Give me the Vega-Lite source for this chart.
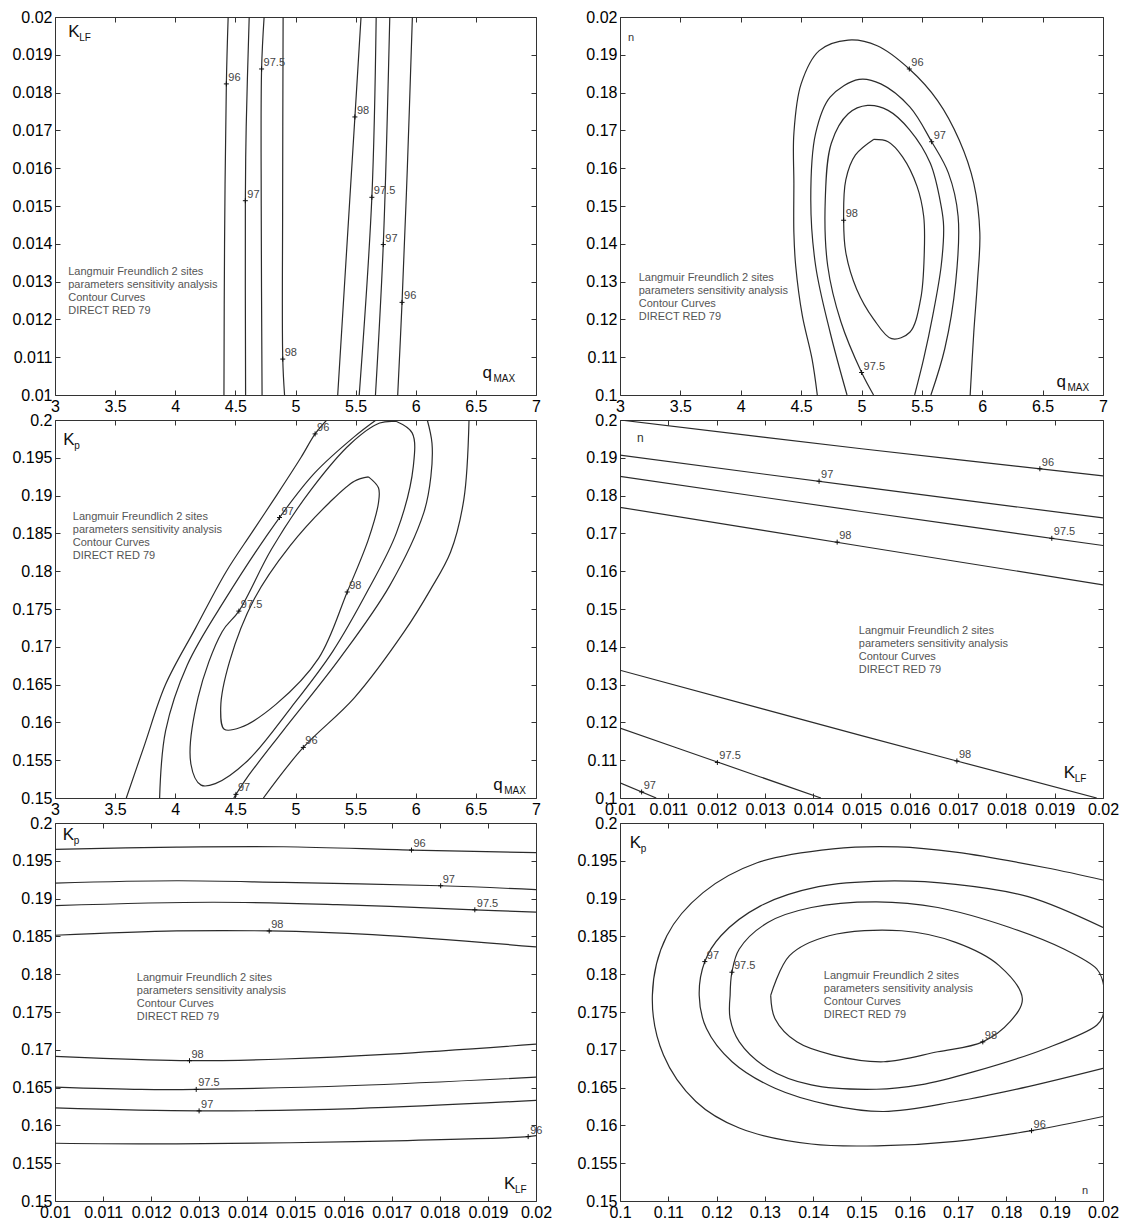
{
"$schema": "https://vega.github.io/schema/vega-lite/v6.json",
"padding": {"left": 11, "top": 8, "right": 5, "bottom": 4},
"columns": 2,
"spacing": {"row": 25, "column": 84},
"bounds": "flush",
"config": {
  "font": "Liberation Sans",
  "view": {"stroke": "#333", "strokeWidth": 1},
  "axis": {"domain": false, "grid": false, "tickSize": -5, "tickColor": "#333", "labelFont": "Liberation Sans", "labelFontSize": 16, "labelColor": "#000", "labelPadding": 8, "labelFlush": false, "labelOverlap": false},
  "text": {"font": "Liberation Sans"}
},
"datasets": {
"p1": [
{"k":"l","c":"96a","x":4.44,"y":0.02},{"k":"l","c":"96a","x":4.425,"y":0.01823},{"k":"l","c":"96a","x":4.41,"y":0.014},{"k":"l","c":"96a","x":4.405,"y":0.01},
{"k":"l","c":"97a","x":4.615,"y":0.02},{"k":"l","c":"97a","x":4.59,"y":0.0171},{"k":"l","c":"97a","x":4.583,"y":0.01514},{"k":"l","c":"97a","x":4.585,"y":0.01},
{"k":"l","c":"975a","x":4.739,"y":0.02},{"k":"l","c":"975a","x":4.718,"y":0.018625},{"k":"l","c":"975a","x":4.715,"y":0.015},{"k":"l","c":"975a","x":4.722,"y":0.01},
{"k":"l","c":"98a","x":4.897,"y":0.02},{"k":"l","c":"98a","x":4.893,"y":0.015},{"k":"l","c":"98a","x":4.894,"y":0.01095},{"k":"l","c":"98a","x":4.909,"y":0.01},
{"k":"l","c":"98b","x":5.545,"y":0.02},{"k":"l","c":"98b","x":5.494,"y":0.017356},{"k":"l","c":"98b","x":5.45,"y":0.0151},{"k":"l","c":"98b","x":5.351,"y":0.01},
{"k":"l","c":"975b","x":5.671,"y":0.02},{"k":"l","c":"975b","x":5.635,"y":0.01523},{"k":"l","c":"975b","x":5.53,"y":0.01},
{"k":"l","c":"97b","x":5.784,"y":0.02},{"k":"l","c":"97b","x":5.73,"y":0.01398},{"k":"l","c":"97b","x":5.665,"y":0.01},
{"k":"l","c":"96b","x":5.972,"y":0.02},{"k":"l","c":"96b","x":5.93,"y":0.016},{"k":"l","c":"96b","x":5.886,"y":0.01245},{"k":"l","c":"96b","x":5.85,"y":0.01},
{"k":"t","t":"96","x":4.425,"y":0.01823},{"k":"t","t":"97.5","x":4.718,"y":0.018625},{"k":"t","t":"97","x":4.583,"y":0.01514},{"k":"t","t":"98","x":4.894,"y":0.01095},
{"k":"t","t":"98","x":5.494,"y":0.017356},{"k":"t","t":"97.5","x":5.635,"y":0.01523},{"k":"t","t":"97","x":5.73,"y":0.01398},{"k":"t","t":"96","x":5.886,"y":0.01245},
{"k":"a","t":"Langmuir Freundlich 2 sites\nparameters sensitivity analysis\nContour Curves\nDIRECT RED 79","x":3.11,"y":0.0134},
{"k":"n","t":"K","s":"LF","x":3.11,"y":0.01946},{"k":"n","t":"q","s":"MAX","x":6.555,"y":0.01044}
],
"p2": [
{"k":"l","c":"96","x":4.634,"y":0.1},{"k":"l","c":"96","x":4.59,"y":0.1096},{"k":"l","c":"96","x":4.51,"y":0.121},{"k":"l","c":"96","x":4.455,"y":0.1342},{"k":"l","c":"96","x":4.44,"y":0.1429},{"k":"l","c":"96","x":4.44,"y":0.156},{"k":"l","c":"96","x":4.44,"y":0.1692},{"k":"l","c":"96","x":4.5,"y":0.1823},{"k":"l","c":"96","x":4.65,"y":0.1911},{"k":"l","c":"96","x":4.89,"y":0.1939},{"k":"l","c":"96","x":5.13,"y":0.1924},{"k":"l","c":"96","x":5.396,"y":0.18625},{"k":"l","c":"96","x":5.63,"y":0.1779},{"k":"l","c":"96","x":5.81,"y":0.1674},{"k":"l","c":"96","x":5.93,"y":0.156},{"k":"l","c":"96","x":5.98,"y":0.1429},{"k":"l","c":"96","x":5.96,"y":0.1298},{"k":"l","c":"96","x":5.93,"y":0.1166},{"k":"l","c":"96","x":5.9,"y":0.1},
{"k":"l","c":"97","x":4.88,"y":0.1},{"k":"l","c":"97","x":4.74,"y":0.1166},{"k":"l","c":"97","x":4.62,"y":0.1342},{"k":"l","c":"97","x":4.58,"y":0.1517},{"k":"l","c":"97","x":4.62,"y":0.1692},{"k":"l","c":"97","x":4.74,"y":0.1788},{"k":"l","c":"97","x":4.98,"y":0.1835},{"k":"l","c":"97","x":5.16,"y":0.1823},{"k":"l","c":"97","x":5.4,"y":0.1762},{"k":"l","c":"97","x":5.581,"y":0.167},{"k":"l","c":"97","x":5.72,"y":0.1587},{"k":"l","c":"97","x":5.8,"y":0.1473},{"k":"l","c":"97","x":5.78,"y":0.1298},{"k":"l","c":"97","x":5.69,"y":0.1123},{"k":"l","c":"97","x":5.575,"y":0.1},
{"k":"l","c":"975","x":5.1,"y":0.1},{"k":"l","c":"975","x":5.001,"y":0.10595},{"k":"l","c":"975","x":4.83,"y":0.1193},{"k":"l","c":"975","x":4.72,"y":0.1342},{"k":"l","c":"975","x":4.7,"y":0.1517},{"k":"l","c":"975","x":4.75,"y":0.1666},{"k":"l","c":"975","x":4.89,"y":0.1744},{"k":"l","c":"975","x":5.05,"y":0.1766},{"k":"l","c":"975","x":5.22,"y":0.1753},{"k":"l","c":"975","x":5.4,"y":0.1701},{"k":"l","c":"975","x":5.57,"y":0.1613},{"k":"l","c":"975","x":5.66,"y":0.1499},{"k":"l","c":"975","x":5.68,"y":0.1447},{"k":"l","c":"975","x":5.66,"y":0.1342},{"k":"l","c":"975","x":5.59,"y":0.121},{"k":"l","c":"975","x":5.515,"y":0.1096},{"k":"l","c":"975","x":5.44,"y":0.1},
{"k":"l","c":"98","x":5.1,"y":0.1676},{"k":"l","c":"98","x":4.95,"y":0.1635},{"k":"l","c":"98","x":4.87,"y":0.1569},{"k":"l","c":"98","x":4.852,"y":0.14623},{"k":"l","c":"98","x":4.87,"y":0.1377},{"k":"l","c":"98","x":4.96,"y":0.128},{"k":"l","c":"98","x":5.1,"y":0.1201},{"k":"l","c":"98","x":5.25,"y":0.1149},{"k":"l","c":"98","x":5.4,"y":0.1166},{"k":"l","c":"98","x":5.49,"y":0.1254},{"k":"l","c":"98","x":5.52,"y":0.1377},{"k":"l","c":"98","x":5.515,"y":0.1473},{"k":"l","c":"98","x":5.46,"y":0.1552},{"k":"l","c":"98","x":5.34,"y":0.163},{"k":"l","c":"98","x":5.22,"y":0.167},{"k":"l","c":"98","x":5.1,"y":0.1676},
{"k":"t","t":"96","x":5.396,"y":0.18625},{"k":"t","t":"97","x":5.581,"y":0.167},{"k":"t","t":"98","x":4.852,"y":0.14623},{"k":"t","t":"97.5","x":5.001,"y":0.10595},
{"k":"a","t":"Langmuir Freundlich 2 sites\nparameters sensitivity analysis\nContour Curves\nDIRECT RED 79","x":3.155,"y":0.1326},
{"k":"n","t":"q","s":"MAX","x":6.615,"y":0.1022},{"k":"m","t":"n","x":3.066,"y":0.1937}
],
"p3": [
{"k":"l","c":"96a","x":3.593,"y":0.15},{"k":"l","c":"96a","x":3.744,"y":0.157},{"k":"l","c":"96a","x":3.919,"y":0.165},{"k":"l","c":"96a","x":4.17,"y":0.1725},{"k":"l","c":"96a","x":4.422,"y":0.1799},{"k":"l","c":"96a","x":4.641,"y":0.1852},{"k":"l","c":"96a","x":4.837,"y":0.1899},{"k":"l","c":"96a","x":5.044,"y":0.195},{"k":"l","c":"96a","x":5.163,"y":0.19816},{"k":"l","c":"96a","x":5.26,"y":0.2},
{"k":"l","c":"96b","x":4.733,"y":0.15},{"k":"l","c":"96b","x":5.065,"y":0.15669},{"k":"l","c":"96b","x":5.489,"y":0.16325},{"k":"l","c":"96b","x":5.904,"y":0.172},{"k":"l","c":"96b","x":6.12,"y":0.1775},{"k":"l","c":"96b","x":6.289,"y":0.1825},{"k":"l","c":"96b","x":6.4,"y":0.1895},{"k":"l","c":"96b","x":6.443,"y":0.2},
{"k":"l","c":"97a","x":3.87,"y":0.15},{"k":"l","c":"97a","x":3.92,"y":0.1589},{"k":"l","c":"97a","x":4.1,"y":0.1676},{"k":"l","c":"97a","x":4.42,"y":0.1764},{"k":"l","c":"97a","x":4.867,"y":0.1871},{"k":"l","c":"97a","x":5.16,"y":0.193},{"k":"l","c":"97a","x":5.49,"y":0.1978},{"k":"l","c":"97a","x":5.67,"y":0.2},
{"k":"l","c":"97b","x":6.096,"y":0.2},{"k":"l","c":"97b","x":6.135,"y":0.19694},{"k":"l","c":"97b","x":6.126,"y":0.19256},{"k":"l","c":"97b","x":6.067,"y":0.18775},{"k":"l","c":"97b","x":5.785,"y":0.17813},{"k":"l","c":"97b","x":5.37,"y":0.1685},{"k":"l","c":"97b","x":4.896,"y":0.15888},{"k":"l","c":"97b","x":4.6,"y":0.15276},{"k":"l","c":"97b","x":4.505,"y":0.15048},{"k":"l","c":"97b","x":4.487,"y":0.15},
{"k":"l","c":"975","x":5.84,"y":0.1998},{"k":"l","c":"975","x":5.97,"y":0.1983},{"k":"l","c":"975","x":5.98,"y":0.1939},{"k":"l","c":"975","x":5.84,"y":0.1851},{"k":"l","c":"975","x":5.61,"y":0.1777},{"k":"l","c":"975","x":5.31,"y":0.1694},{"k":"l","c":"975","x":4.96,"y":0.1619},{"k":"l","c":"975","x":4.6,"y":0.1549},{"k":"l","c":"975","x":4.333,"y":0.1519},{"k":"l","c":"975","x":4.215,"y":0.1517},{"k":"l","c":"975","x":4.13,"y":0.1545},{"k":"l","c":"975","x":4.19,"y":0.1633},{"k":"l","c":"975","x":4.39,"y":0.172},{"k":"l","c":"975","x":4.529,"y":0.17472},{"k":"l","c":"975","x":4.8,"y":0.1829},{"k":"l","c":"975","x":5.13,"y":0.1908},{"k":"l","c":"975","x":5.46,"y":0.1969},{"k":"l","c":"975","x":5.7,"y":0.1996},{"k":"l","c":"975","x":5.84,"y":0.1998},
{"k":"l","c":"98","x":5.607,"y":0.19248},{"k":"l","c":"98","x":5.69,"y":0.19103},{"k":"l","c":"98","x":5.69,"y":0.18906},{"k":"l","c":"98","x":5.607,"y":0.18425},{"k":"l","c":"98","x":5.43,"y":0.17725},{"k":"l","c":"98","x":5.193,"y":0.1685},{"k":"l","c":"98","x":4.837,"y":0.16238},{"k":"l","c":"98","x":4.541,"y":0.15932},{"k":"l","c":"98","x":4.407,"y":0.1591},{"k":"l","c":"98","x":4.378,"y":0.16194},{"k":"l","c":"98","x":4.452,"y":0.16807},{"k":"l","c":"98","x":4.659,"y":0.17638},{"k":"l","c":"98","x":4.956,"y":0.18338},{"k":"l","c":"98","x":5.281,"y":0.18906},{"k":"l","c":"98","x":5.489,"y":0.19191},{"k":"l","c":"98","x":5.607,"y":0.19248},
{"k":"t","t":"96","x":5.163,"y":0.19816},{"k":"t","t":"97","x":4.867,"y":0.1871},{"k":"t","t":"97.5","x":4.529,"y":0.17472},{"k":"t","t":"98","x":5.43,"y":0.17725},{"k":"t","t":"96","x":5.065,"y":0.15669},{"k":"t","t":"97","x":4.505,"y":0.15048},
{"k":"a","t":"Langmuir Freundlich 2 sites\nparameters sensitivity analysis\nContour Curves\nDIRECT RED 79","x":3.148,"y":0.188},
{"k":"n","t":"K","s":"p","x":3.068,"y":0.19672},{"k":"n","t":"q","s":"MAX","x":6.644,"y":0.15109}
],
"p4": [
{"k":"l","c":"96","x":0.01,"y":0.2},{"k":"l","c":"96","x":0.015,"y":0.1924},{"k":"l","c":"96","x":0.02,"y":0.1852},
{"k":"l","c":"97","x":0.01,"y":0.1907},{"k":"l","c":"97","x":0.015,"y":0.1823},{"k":"l","c":"97","x":0.02,"y":0.1741},
{"k":"l","c":"975","x":0.01,"y":0.1851},{"k":"l","c":"975","x":0.015,"y":0.1758},{"k":"l","c":"975","x":0.02,"y":0.1668},
{"k":"l","c":"98","x":0.01,"y":0.1769},{"k":"l","c":"98","x":0.015,"y":0.1666},{"k":"l","c":"98","x":0.02,"y":0.1564},
{"k":"l","c":"98b","x":0.01,"y":0.1338},{"k":"l","c":"98b","x":0.015,"y":0.1165},{"k":"l","c":"98b","x":0.01987,"y":0.1},
{"k":"l","c":"975b","x":0.01,"y":0.1185},{"k":"l","c":"975b","x":0.012,"y":0.1096},{"k":"l","c":"975b","x":0.01416,"y":0.1},
{"k":"l","c":"97b","x":0.01,"y":0.104},{"k":"l","c":"97b","x":0.01075,"y":0.1},
{"k":"t","t":"96","x":0.018693,"y":0.1871},{"k":"t","t":"97","x":0.014122,"y":0.1838},{"k":"t","t":"97.5","x":0.01894,"y":0.1687},{"k":"t","t":"98","x":0.014496,"y":0.1677},{"k":"t","t":"98","x":0.016975,"y":0.1098},{"k":"t","t":"97.5","x":0.012016,"y":0.1094},{"k":"t","t":"97","x":0.010448,"y":0.1016},
{"k":"a","t":"Langmuir Freundlich 2 sites\nparameters sensitivity analysis\nContour Curves\nDIRECT RED 79","x":0.014944,"y":0.1457},
{"k":"n","t":"K","s":"LF","x":0.019186,"y":0.10527},{"k":"m","t":"n","x":0.01035,"y":0.1942}
],
"p5": [
{"k":"l","c":"96a","x":0.01,"y":0.19651},{"k":"l","c":"96a","x":0.01253,"y":0.19681},{"k":"l","c":"96a","x":0.01475,"y":0.19686},{"k":"l","c":"96a","x":0.017411,"y":0.19642},{"k":"l","c":"96a","x":0.02,"y":0.19607},
{"k":"l","c":"97a","x":0.01,"y":0.19205},{"k":"l","c":"97a","x":0.01253,"y":0.19236},{"k":"l","c":"97a","x":0.01475,"y":0.19214},{"k":"l","c":"97a","x":0.018018,"y":0.1917},{"k":"l","c":"97a","x":0.02,"y":0.19118},
{"k":"l","c":"975a","x":0.01,"y":0.18908},{"k":"l","c":"975a","x":0.01327,"y":0.18952},{"k":"l","c":"975a","x":0.01586,"y":0.18921},{"k":"l","c":"975a","x":0.018728,"y":0.18852},{"k":"l","c":"975a","x":0.02,"y":0.18821},
{"k":"l","c":"98a","x":0.01,"y":0.18515},{"k":"l","c":"98a","x":0.01253,"y":0.18572},{"k":"l","c":"98a","x":0.014453,"y":0.18572},{"k":"l","c":"98a","x":0.0166,"y":0.18524},{"k":"l","c":"98a","x":0.02,"y":0.18362},
{"k":"l","c":"98b","x":0.01,"y":0.16913},{"k":"l","c":"98b","x":0.01179,"y":0.16869},{"k":"l","c":"98b","x":0.012796,"y":0.16856},{"k":"l","c":"98b","x":0.01475,"y":0.16878},{"k":"l","c":"98b","x":0.01697,"y":0.16943},{"k":"l","c":"98b","x":0.02,"y":0.17074},
{"k":"l","c":"975b","x":0.01,"y":0.16507},{"k":"l","c":"975b","x":0.01179,"y":0.16476},{"k":"l","c":"975b","x":0.012936,"y":0.16476},{"k":"l","c":"975b","x":0.01623,"y":0.16528},{"k":"l","c":"975b","x":0.02,"y":0.16638},
{"k":"l","c":"97b","x":0.01,"y":0.16231},{"k":"l","c":"97b","x":0.012996,"y":0.16192},{"k":"l","c":"97b","x":0.01623,"y":0.16223},{"k":"l","c":"97b","x":0.02,"y":0.16332},
{"k":"l","c":"96b","x":0.01,"y":0.15764},{"k":"l","c":"96b","x":0.01253,"y":0.15755},{"k":"l","c":"96b","x":0.01623,"y":0.15786},{"k":"l","c":"96b","x":0.019837,"y":0.15852},{"k":"l","c":"96b","x":0.02,"y":0.15865},
{"k":"t","t":"96","x":0.017411,"y":0.19642},{"k":"t","t":"97","x":0.018018,"y":0.1917},{"k":"t","t":"97.5","x":0.018728,"y":0.18852},{"k":"t","t":"98","x":0.014453,"y":0.18572},{"k":"t","t":"98","x":0.012796,"y":0.16856},{"k":"t","t":"97.5","x":0.012936,"y":0.16476},{"k":"t","t":"97","x":0.012996,"y":0.16192},{"k":"t","t":"96","x":0.019837,"y":0.15852},
{"k":"a","t":"Langmuir Freundlich 2 sites\nparameters sensitivity analysis\nContour Curves\nDIRECT RED 79","x":0.0117,"y":0.1803},
{"k":"n","t":"K","s":"p","x":0.01016,"y":0.19769},{"k":"n","t":"K","s":"LF","x":0.019334,"y":0.15162}
],
"p6": [
{"k":"l","c":"96","x":0.2,"y":0.19246},{"k":"l","c":"96","x":0.1882,"y":0.19408},{"k":"l","c":"96","x":0.1695,"y":0.19614},{"k":"l","c":"96","x":0.1575,"y":0.19684},{"k":"l","c":"96","x":0.1441,"y":0.19658},{"k":"l","c":"96","x":0.1284,"y":0.19474},{"k":"l","c":"96","x":0.1172,"y":0.19079},{"k":"l","c":"96","x":0.1097,"y":0.18509},{"k":"l","c":"96","x":0.1067,"y":0.17719},{"k":"l","c":"96","x":0.109,"y":0.1693},{"k":"l","c":"96","x":0.1157,"y":0.16316},{"k":"l","c":"96","x":0.1247,"y":0.15965},{"k":"l","c":"96","x":0.1396,"y":0.15754},{"k":"l","c":"96","x":0.1546,"y":0.15732},{"k":"l","c":"96","x":0.1695,"y":0.15789},{"k":"l","c":"96","x":0.1852,"y":0.1593},{"k":"l","c":"96","x":0.2,"y":0.16118},
{"k":"l","c":"97","x":0.2,"y":0.18618},{"k":"l","c":"97","x":0.1845,"y":0.19026},{"k":"l","c":"97","x":0.1695,"y":0.19189},{"k":"l","c":"97","x":0.1546,"y":0.19232},{"k":"l","c":"97","x":0.1411,"y":0.19158},{"k":"l","c":"97","x":0.1291,"y":0.18904},{"k":"l","c":"97","x":0.1209,"y":0.18509},{"k":"l","c":"97","x":0.11756,"y":0.18167},{"k":"l","c":"97","x":0.1164,"y":0.17719},{"k":"l","c":"97","x":0.1179,"y":0.17281},{"k":"l","c":"97","x":0.1232,"y":0.16842},{"k":"l","c":"97","x":0.1321,"y":0.16491},{"k":"l","c":"97","x":0.1433,"y":0.16272},{"k":"l","c":"97","x":0.1546,"y":0.16184},{"k":"l","c":"97","x":0.1695,"y":0.16316},{"k":"l","c":"97","x":0.1845,"y":0.16513},{"k":"l","c":"97","x":0.2,"y":0.16754},
{"k":"l","c":"975","x":0.1228,"y":0.17719},{"k":"l","c":"975","x":0.12317,"y":0.18026},{"k":"l","c":"975","x":0.1247,"y":0.18333},{"k":"l","c":"975","x":0.1306,"y":0.18684},{"k":"l","c":"975","x":0.1396,"y":0.18882},{"k":"l","c":"975","x":0.1531,"y":0.18956},{"k":"l","c":"975","x":0.1658,"y":0.18882},{"k":"l","c":"975","x":0.1807,"y":0.18618},{"k":"l","c":"975","x":0.1919,"y":0.18333},{"k":"l","c":"975","x":0.1987,"y":0.1807},{"k":"l","c":"975","x":0.2,"y":0.17895},{"k":"l","c":"975","x":0.2,"y":0.17456},{"k":"l","c":"975","x":0.1987,"y":0.17325},{"k":"l","c":"975","x":0.1882,"y":0.17018},{"k":"l","c":"975","x":0.1733,"y":0.16711},{"k":"l","c":"975","x":0.1621,"y":0.16535},{"k":"l","c":"975","x":0.1531,"y":0.16478},{"k":"l","c":"975","x":0.1396,"y":0.16535},{"k":"l","c":"975","x":0.1306,"y":0.16754},{"k":"l","c":"975","x":0.1247,"y":0.17105},{"k":"l","c":"975","x":0.1228,"y":0.17412},{"k":"l","c":"975","x":0.1228,"y":0.17719},
{"k":"l","c":"98","x":0.1312,"y":0.17719},{"k":"l","c":"98","x":0.1351,"y":0.18246},{"k":"l","c":"98","x":0.1433,"y":0.18509},{"k":"l","c":"98","x":0.1583,"y":0.18575},{"k":"l","c":"98","x":0.1695,"y":0.18421},{"k":"l","c":"98","x":0.1785,"y":0.18114},{"k":"l","c":"98","x":0.1833,"y":0.17675},{"k":"l","c":"98","x":0.1807,"y":0.17368},{"k":"l","c":"98","x":0.17511,"y":0.17105},{"k":"l","c":"98","x":0.1658,"y":0.16974},{"k":"l","c":"98","x":0.1546,"y":0.16842},{"k":"l","c":"98","x":0.1441,"y":0.1693},{"k":"l","c":"98","x":0.1366,"y":0.17105},{"k":"l","c":"98","x":0.1321,"y":0.17412},{"k":"l","c":"98","x":0.1312,"y":0.17719},
{"k":"t","t":"97","x":0.11756,"y":0.18167},{"k":"t","t":"97.5","x":0.12317,"y":0.18026},{"k":"t","t":"98","x":0.17511,"y":0.17105},{"k":"t","t":"96","x":0.1852,"y":0.1593},
{"k":"a","t":"Langmuir Freundlich 2 sites\nparameters sensitivity analysis\nContour Curves\nDIRECT RED 79","x":0.1422,"y":0.1805},
{"k":"n","t":"K","s":"p","x":0.10202,"y":0.19671},{"k":"m","t":"n","x":0.19567,"y":0.15096}
]
},
"concat": [
{"width": 481, "height": 378, "data": {"name": "p1"},
 "layer": [
  {"transform": [{"filter": "datum.k=='l'"}], "mark": {"type": "line", "interpolate": "catmull-rom", "color": "#2b2b2b", "strokeWidth": 1.2, "clip": true},
   "encoding": {"x": {"field": "x", "type": "quantitative", "scale": {"domain": [3,7], "nice": false, "zero": false}, "axis": {"orient": "bottom", "values": [3,3.5,4,4.5,5,5.5,6,6.5,7], "format": "~g", "title": null}},
    "y": {"field": "y", "type": "quantitative", "scale": {"domain": [0.01,0.02], "nice": false, "zero": false}, "axis": {"orient": "left", "values": [0.01,0.011,0.012,0.013,0.014,0.015,0.016,0.017,0.018,0.019,0.02], "format": "~g", "title": null}},
    "detail": {"field": "c"}, "order": {"value": null}}},
  {"transform": [{"filter": "datum.k=='t'"}], "mark": {"type": "text", "align": "left", "baseline": "bottom", "dx": 2, "dy": -1, "fontSize": 11, "color": "#444"},
   "encoding": {"x": {"field": "x", "type": "quantitative", "scale": {"domain": [3,7], "nice": false, "zero": false}, "axis": null}, "y": {"field": "y", "type": "quantitative", "scale": {"domain": [0.01,0.02], "nice": false, "zero": false}, "axis": null}, "text": {"field": "t"}}},
  {"transform": [{"filter": "datum.k=='a'"}], "mark": {"type": "text", "align": "left", "baseline": "top", "lineBreak": "\n", "lineHeight": 13, "fontSize": 11, "color": "#555"},
   "encoding": {"x": {"field": "x", "type": "quantitative", "scale": {"domain": [3,7], "nice": false, "zero": false}, "axis": null}, "y": {"field": "y", "type": "quantitative", "scale": {"domain": [0.01,0.02], "nice": false, "zero": false}, "axis": null}, "text": {"field": "t"}}},
  {"transform": [{"filter": "datum.k=='n'"}], "mark": {"type": "text", "align": "left", "baseline": "alphabetic", "fontSize": 17, "color": "#111"},
   "encoding": {"x": {"field": "x", "type": "quantitative", "scale": {"domain": [3,7], "nice": false, "zero": false}, "axis": null}, "y": {"field": "y", "type": "quantitative", "scale": {"domain": [0.01,0.02], "nice": false, "zero": false}, "axis": null}, "text": {"field": "t"}}},
  {"transform": [{"filter": "datum.k=='n'"}], "mark": {"type": "text", "align": "left", "baseline": "alphabetic", "fontSize": 10, "dx": 11, "dy": 4, "color": "#111"},
   "encoding": {"x": {"field": "x", "type": "quantitative", "scale": {"domain": [3,7], "nice": false, "zero": false}, "axis": null}, "y": {"field": "y", "type": "quantitative", "scale": {"domain": [0.01,0.02], "nice": false, "zero": false}, "axis": null}, "text": {"field": "s"}}},
  {"transform": [{"filter": "datum.k=='t'"}], "mark": {"type": "point", "shape": "M-1,0L1,0M0,-1L0,1", "size": 25, "filled": false, "stroke": "#111", "strokeWidth": 1, "opacity": 1},
   "encoding": {"x": {"field": "x", "type": "quantitative", "scale": {"domain": [3,7], "nice": false, "zero": false}, "axis": {"orient": "top", "values": [3,3.5,4,4.5,5,5.5,6,6.5,7], "labels": false, "title": null}},
    "y": {"field": "y", "type": "quantitative", "scale": {"domain": [0.01,0.02], "nice": false, "zero": false}, "axis": {"orient": "right", "values": [0.01,0.011,0.012,0.013,0.014,0.015,0.016,0.017,0.018,0.019,0.02], "labels": false, "title": null}}}}
 ]},
{"width": 483, "height": 378, "data": {"name": "p2"},
 "layer": [
  {"transform": [{"filter": "datum.k=='l'"}], "mark": {"type": "line", "interpolate": "catmull-rom", "color": "#2b2b2b", "strokeWidth": 1.2, "clip": true},
   "encoding": {"x": {"field": "x", "type": "quantitative", "scale": {"domain": [3,7], "nice": false, "zero": false}, "axis": {"orient": "bottom", "values": [3,3.5,4,4.5,5,5.5,6,6.5,7], "format": "~g", "title": null}},
    "y": {"field": "y", "type": "quantitative", "scale": {"domain": [0.1,0.2], "nice": false, "zero": false}, "axis": {"orient": "left", "values": [0.1,0.11,0.12,0.13,0.14,0.15,0.16,0.17,0.18,0.19,0.2], "format": "~g", "labelExpr": "datum.value == 0.2 ? '0.02' : datum.label", "title": null}},
    "detail": {"field": "c"}, "order": {"value": null}}},
  {"transform": [{"filter": "datum.k=='t'"}], "mark": {"type": "text", "align": "left", "baseline": "bottom", "dx": 2, "dy": -1, "fontSize": 11, "color": "#444"},
   "encoding": {"x": {"field": "x", "type": "quantitative", "scale": {"domain": [3,7], "nice": false, "zero": false}, "axis": null}, "y": {"field": "y", "type": "quantitative", "scale": {"domain": [0.1,0.2], "nice": false, "zero": false}, "axis": null}, "text": {"field": "t"}}},
  {"transform": [{"filter": "datum.k=='a'"}], "mark": {"type": "text", "align": "left", "baseline": "top", "lineBreak": "\n", "lineHeight": 13, "fontSize": 11, "color": "#555"},
   "encoding": {"x": {"field": "x", "type": "quantitative", "scale": {"domain": [3,7], "nice": false, "zero": false}, "axis": null}, "y": {"field": "y", "type": "quantitative", "scale": {"domain": [0.1,0.2], "nice": false, "zero": false}, "axis": null}, "text": {"field": "t"}}},
  {"transform": [{"filter": "datum.k=='n'"}], "mark": {"type": "text", "align": "left", "baseline": "alphabetic", "fontSize": 17, "color": "#111"},
   "encoding": {"x": {"field": "x", "type": "quantitative", "scale": {"domain": [3,7], "nice": false, "zero": false}, "axis": null}, "y": {"field": "y", "type": "quantitative", "scale": {"domain": [0.1,0.2], "nice": false, "zero": false}, "axis": null}, "text": {"field": "t"}}},
  {"transform": [{"filter": "datum.k=='n'"}], "mark": {"type": "text", "align": "left", "baseline": "alphabetic", "fontSize": 10, "dx": 11, "dy": 4, "color": "#111"},
   "encoding": {"x": {"field": "x", "type": "quantitative", "scale": {"domain": [3,7], "nice": false, "zero": false}, "axis": null}, "y": {"field": "y", "type": "quantitative", "scale": {"domain": [0.1,0.2], "nice": false, "zero": false}, "axis": null}, "text": {"field": "s"}}},
  {"transform": [{"filter": "datum.k=='m'"}], "mark": {"type": "text", "align": "left", "baseline": "alphabetic", "fontSize": 11, "color": "#333"},
   "encoding": {"x": {"field": "x", "type": "quantitative", "scale": {"domain": [3,7], "nice": false, "zero": false}, "axis": null}, "y": {"field": "y", "type": "quantitative", "scale": {"domain": [0.1,0.2], "nice": false, "zero": false}, "axis": null}, "text": {"field": "t"}}},
  {"transform": [{"filter": "datum.k=='t'"}], "mark": {"type": "point", "shape": "M-1,0L1,0M0,-1L0,1", "size": 25, "filled": false, "stroke": "#111", "strokeWidth": 1, "opacity": 1},
   "encoding": {"x": {"field": "x", "type": "quantitative", "scale": {"domain": [3,7], "nice": false, "zero": false}, "axis": {"orient": "top", "values": [3,3.5,4,4.5,5,5.5,6,6.5,7], "labels": false, "title": null}},
    "y": {"field": "y", "type": "quantitative", "scale": {"domain": [0.1,0.2], "nice": false, "zero": false}, "axis": {"orient": "right", "values": [0.1,0.11,0.12,0.13,0.14,0.15,0.16,0.17,0.18,0.19,0.2], "labels": false, "title": null}}}}
 ]},
{"width": 481, "height": 378, "data": {"name": "p3"},
 "layer": [
  {"transform": [{"filter": "datum.k=='l'"}], "mark": {"type": "line", "interpolate": "catmull-rom", "color": "#2b2b2b", "strokeWidth": 1.2, "clip": true},
   "encoding": {"x": {"field": "x", "type": "quantitative", "scale": {"domain": [3,7], "nice": false, "zero": false}, "axis": {"orient": "bottom", "values": [3,3.5,4,4.5,5,5.5,6,6.5,7], "format": "~g", "title": null}},
    "y": {"field": "y", "type": "quantitative", "scale": {"domain": [0.15,0.2], "nice": false, "zero": false}, "axis": {"orient": "left", "values": [0.15,0.155,0.16,0.165,0.17,0.175,0.18,0.185,0.19,0.195,0.2], "format": "~g", "title": null}},
    "detail": {"field": "c"}, "order": {"value": null}}},
  {"transform": [{"filter": "datum.k=='t'"}], "mark": {"type": "text", "align": "left", "baseline": "bottom", "dx": 2, "dy": -1, "fontSize": 11, "color": "#444"},
   "encoding": {"x": {"field": "x", "type": "quantitative", "scale": {"domain": [3,7], "nice": false, "zero": false}, "axis": null}, "y": {"field": "y", "type": "quantitative", "scale": {"domain": [0.15,0.2], "nice": false, "zero": false}, "axis": null}, "text": {"field": "t"}}},
  {"transform": [{"filter": "datum.k=='a'"}], "mark": {"type": "text", "align": "left", "baseline": "top", "lineBreak": "\n", "lineHeight": 13, "fontSize": 11, "color": "#555"},
   "encoding": {"x": {"field": "x", "type": "quantitative", "scale": {"domain": [3,7], "nice": false, "zero": false}, "axis": null}, "y": {"field": "y", "type": "quantitative", "scale": {"domain": [0.15,0.2], "nice": false, "zero": false}, "axis": null}, "text": {"field": "t"}}},
  {"transform": [{"filter": "datum.k=='n'"}], "mark": {"type": "text", "align": "left", "baseline": "alphabetic", "fontSize": 17, "color": "#111"},
   "encoding": {"x": {"field": "x", "type": "quantitative", "scale": {"domain": [3,7], "nice": false, "zero": false}, "axis": null}, "y": {"field": "y", "type": "quantitative", "scale": {"domain": [0.15,0.2], "nice": false, "zero": false}, "axis": null}, "text": {"field": "t"}}},
  {"transform": [{"filter": "datum.k=='n'"}], "mark": {"type": "text", "align": "left", "baseline": "alphabetic", "fontSize": 10, "dx": 11, "dy": 4, "color": "#111"},
   "encoding": {"x": {"field": "x", "type": "quantitative", "scale": {"domain": [3,7], "nice": false, "zero": false}, "axis": null}, "y": {"field": "y", "type": "quantitative", "scale": {"domain": [0.15,0.2], "nice": false, "zero": false}, "axis": null}, "text": {"field": "s"}}},
  {"transform": [{"filter": "datum.k=='t'"}], "mark": {"type": "point", "shape": "M-1,0L1,0M0,-1L0,1", "size": 25, "filled": false, "stroke": "#111", "strokeWidth": 1, "opacity": 1},
   "encoding": {"x": {"field": "x", "type": "quantitative", "scale": {"domain": [3,7], "nice": false, "zero": false}, "axis": {"orient": "top", "values": [3,3.5,4,4.5,5,5.5,6,6.5,7], "labels": false, "title": null}},
    "y": {"field": "y", "type": "quantitative", "scale": {"domain": [0.15,0.2], "nice": false, "zero": false}, "axis": {"orient": "right", "values": [0.15,0.155,0.16,0.165,0.17,0.175,0.18,0.185,0.19,0.195,0.2], "labels": false, "title": null}}}}
 ]},
{"width": 483, "height": 378, "data": {"name": "p4"},
 "layer": [
  {"transform": [{"filter": "datum.k=='l'"}], "mark": {"type": "line", "interpolate": "catmull-rom", "color": "#2b2b2b", "strokeWidth": 1.2, "clip": true},
   "encoding": {"x": {"field": "x", "type": "quantitative", "scale": {"domain": [0.01,0.02], "nice": false, "zero": false}, "axis": {"orient": "bottom", "values": [0.01,0.011,0.012,0.013,0.014,0.015,0.016,0.017,0.018,0.019,0.02], "format": "~g", "title": null}},
    "y": {"field": "y", "type": "quantitative", "scale": {"domain": [0.1,0.2], "nice": false, "zero": false}, "axis": {"orient": "left", "values": [0.1,0.11,0.12,0.13,0.14,0.15,0.16,0.17,0.18,0.19,0.2], "format": "~g", "title": null}},
    "detail": {"field": "c"}, "order": {"value": null}}},
  {"transform": [{"filter": "datum.k=='t'"}], "mark": {"type": "text", "align": "left", "baseline": "bottom", "dx": 2, "dy": -1, "fontSize": 11, "color": "#444"},
   "encoding": {"x": {"field": "x", "type": "quantitative", "scale": {"domain": [0.01,0.02], "nice": false, "zero": false}, "axis": null}, "y": {"field": "y", "type": "quantitative", "scale": {"domain": [0.1,0.2], "nice": false, "zero": false}, "axis": null}, "text": {"field": "t"}}},
  {"transform": [{"filter": "datum.k=='a'"}], "mark": {"type": "text", "align": "left", "baseline": "top", "lineBreak": "\n", "lineHeight": 13, "fontSize": 11, "color": "#555"},
   "encoding": {"x": {"field": "x", "type": "quantitative", "scale": {"domain": [0.01,0.02], "nice": false, "zero": false}, "axis": null}, "y": {"field": "y", "type": "quantitative", "scale": {"domain": [0.1,0.2], "nice": false, "zero": false}, "axis": null}, "text": {"field": "t"}}},
  {"transform": [{"filter": "datum.k=='n'"}], "mark": {"type": "text", "align": "left", "baseline": "alphabetic", "fontSize": 17, "color": "#111"},
   "encoding": {"x": {"field": "x", "type": "quantitative", "scale": {"domain": [0.01,0.02], "nice": false, "zero": false}, "axis": null}, "y": {"field": "y", "type": "quantitative", "scale": {"domain": [0.1,0.2], "nice": false, "zero": false}, "axis": null}, "text": {"field": "t"}}},
  {"transform": [{"filter": "datum.k=='n'"}], "mark": {"type": "text", "align": "left", "baseline": "alphabetic", "fontSize": 10, "dx": 11, "dy": 4, "color": "#111"},
   "encoding": {"x": {"field": "x", "type": "quantitative", "scale": {"domain": [0.01,0.02], "nice": false, "zero": false}, "axis": null}, "y": {"field": "y", "type": "quantitative", "scale": {"domain": [0.1,0.2], "nice": false, "zero": false}, "axis": null}, "text": {"field": "s"}}},
  {"transform": [{"filter": "datum.k=='m'"}], "mark": {"type": "text", "align": "left", "baseline": "alphabetic", "fontSize": 12, "color": "#333"},
   "encoding": {"x": {"field": "x", "type": "quantitative", "scale": {"domain": [0.01,0.02], "nice": false, "zero": false}, "axis": null}, "y": {"field": "y", "type": "quantitative", "scale": {"domain": [0.1,0.2], "nice": false, "zero": false}, "axis": null}, "text": {"field": "t"}}},
  {"transform": [{"filter": "datum.k=='t'"}], "mark": {"type": "point", "shape": "M-1,0L1,0M0,-1L0,1", "size": 25, "filled": false, "stroke": "#111", "strokeWidth": 1, "opacity": 1},
   "encoding": {"x": {"field": "x", "type": "quantitative", "scale": {"domain": [0.01,0.02], "nice": false, "zero": false}, "axis": {"orient": "top", "values": [0.01,0.011,0.012,0.013,0.014,0.015,0.016,0.017,0.018,0.019,0.02], "labels": false, "title": null}},
    "y": {"field": "y", "type": "quantitative", "scale": {"domain": [0.1,0.2], "nice": false, "zero": false}, "axis": {"orient": "right", "values": [0.1,0.11,0.12,0.13,0.14,0.15,0.16,0.17,0.18,0.19,0.2], "labels": false, "title": null}}}}
 ]},
{"width": 481, "height": 378, "data": {"name": "p5"},
 "layer": [
  {"transform": [{"filter": "datum.k=='l'"}], "mark": {"type": "line", "interpolate": "catmull-rom", "color": "#2b2b2b", "strokeWidth": 1.2, "clip": true},
   "encoding": {"x": {"field": "x", "type": "quantitative", "scale": {"domain": [0.01,0.02], "nice": false, "zero": false}, "axis": {"orient": "bottom", "values": [0.01,0.011,0.012,0.013,0.014,0.015,0.016,0.017,0.018,0.019,0.02], "format": "~g", "title": null}},
    "y": {"field": "y", "type": "quantitative", "scale": {"domain": [0.15,0.2], "nice": false, "zero": false}, "axis": {"orient": "left", "values": [0.15,0.155,0.16,0.165,0.17,0.175,0.18,0.185,0.19,0.195,0.2], "format": "~g", "title": null}},
    "detail": {"field": "c"}, "order": {"value": null}}},
  {"transform": [{"filter": "datum.k=='t'"}], "mark": {"type": "text", "align": "left", "baseline": "bottom", "dx": 2, "dy": -1, "fontSize": 11, "color": "#444"},
   "encoding": {"x": {"field": "x", "type": "quantitative", "scale": {"domain": [0.01,0.02], "nice": false, "zero": false}, "axis": null}, "y": {"field": "y", "type": "quantitative", "scale": {"domain": [0.15,0.2], "nice": false, "zero": false}, "axis": null}, "text": {"field": "t"}}},
  {"transform": [{"filter": "datum.k=='a'"}], "mark": {"type": "text", "align": "left", "baseline": "top", "lineBreak": "\n", "lineHeight": 13, "fontSize": 11, "color": "#555"},
   "encoding": {"x": {"field": "x", "type": "quantitative", "scale": {"domain": [0.01,0.02], "nice": false, "zero": false}, "axis": null}, "y": {"field": "y", "type": "quantitative", "scale": {"domain": [0.15,0.2], "nice": false, "zero": false}, "axis": null}, "text": {"field": "t"}}},
  {"transform": [{"filter": "datum.k=='n'"}], "mark": {"type": "text", "align": "left", "baseline": "alphabetic", "fontSize": 17, "color": "#111"},
   "encoding": {"x": {"field": "x", "type": "quantitative", "scale": {"domain": [0.01,0.02], "nice": false, "zero": false}, "axis": null}, "y": {"field": "y", "type": "quantitative", "scale": {"domain": [0.15,0.2], "nice": false, "zero": false}, "axis": null}, "text": {"field": "t"}}},
  {"transform": [{"filter": "datum.k=='n'"}], "mark": {"type": "text", "align": "left", "baseline": "alphabetic", "fontSize": 10, "dx": 11, "dy": 4, "color": "#111"},
   "encoding": {"x": {"field": "x", "type": "quantitative", "scale": {"domain": [0.01,0.02], "nice": false, "zero": false}, "axis": null}, "y": {"field": "y", "type": "quantitative", "scale": {"domain": [0.15,0.2], "nice": false, "zero": false}, "axis": null}, "text": {"field": "s"}}},
  {"transform": [{"filter": "datum.k=='t'"}], "mark": {"type": "point", "shape": "M-1,0L1,0M0,-1L0,1", "size": 25, "filled": false, "stroke": "#111", "strokeWidth": 1, "opacity": 1},
   "encoding": {"x": {"field": "x", "type": "quantitative", "scale": {"domain": [0.01,0.02], "nice": false, "zero": false}, "axis": {"orient": "top", "values": [0.01,0.011,0.012,0.013,0.014,0.015,0.016,0.017,0.018,0.019,0.02], "labels": false, "title": null}},
    "y": {"field": "y", "type": "quantitative", "scale": {"domain": [0.15,0.2], "nice": false, "zero": false}, "axis": {"orient": "right", "values": [0.15,0.155,0.16,0.165,0.17,0.175,0.18,0.185,0.19,0.195,0.2], "labels": false, "title": null}}}}
 ]},
{"width": 483, "height": 378, "data": {"name": "p6"},
 "layer": [
  {"transform": [{"filter": "datum.k=='l'"}], "mark": {"type": "line", "interpolate": "catmull-rom", "color": "#2b2b2b", "strokeWidth": 1.2, "clip": true},
   "encoding": {"x": {"field": "x", "type": "quantitative", "scale": {"domain": [0.1,0.2], "nice": false, "zero": false}, "axis": {"orient": "bottom", "values": [0.1,0.11,0.12,0.13,0.14,0.15,0.16,0.17,0.18,0.19,0.2], "format": "~g", "labelExpr": "datum.value == 0.2 ? '0.02' : datum.label", "title": null}},
    "y": {"field": "y", "type": "quantitative", "scale": {"domain": [0.15,0.2], "nice": false, "zero": false}, "axis": {"orient": "left", "values": [0.15,0.155,0.16,0.165,0.17,0.175,0.18,0.185,0.19,0.195,0.2], "format": "~g", "title": null}},
    "detail": {"field": "c"}, "order": {"value": null}}},
  {"transform": [{"filter": "datum.k=='t'"}], "mark": {"type": "text", "align": "left", "baseline": "bottom", "dx": 2, "dy": -1, "fontSize": 11, "color": "#444"},
   "encoding": {"x": {"field": "x", "type": "quantitative", "scale": {"domain": [0.1,0.2], "nice": false, "zero": false}, "axis": null}, "y": {"field": "y", "type": "quantitative", "scale": {"domain": [0.15,0.2], "nice": false, "zero": false}, "axis": null}, "text": {"field": "t"}}},
  {"transform": [{"filter": "datum.k=='a'"}], "mark": {"type": "text", "align": "left", "baseline": "top", "lineBreak": "\n", "lineHeight": 13, "fontSize": 11, "color": "#555"},
   "encoding": {"x": {"field": "x", "type": "quantitative", "scale": {"domain": [0.1,0.2], "nice": false, "zero": false}, "axis": null}, "y": {"field": "y", "type": "quantitative", "scale": {"domain": [0.15,0.2], "nice": false, "zero": false}, "axis": null}, "text": {"field": "t"}}},
  {"transform": [{"filter": "datum.k=='n'"}], "mark": {"type": "text", "align": "left", "baseline": "alphabetic", "fontSize": 17, "color": "#111"},
   "encoding": {"x": {"field": "x", "type": "quantitative", "scale": {"domain": [0.1,0.2], "nice": false, "zero": false}, "axis": null}, "y": {"field": "y", "type": "quantitative", "scale": {"domain": [0.15,0.2], "nice": false, "zero": false}, "axis": null}, "text": {"field": "t"}}},
  {"transform": [{"filter": "datum.k=='n'"}], "mark": {"type": "text", "align": "left", "baseline": "alphabetic", "fontSize": 10, "dx": 11, "dy": 4, "color": "#111"},
   "encoding": {"x": {"field": "x", "type": "quantitative", "scale": {"domain": [0.1,0.2], "nice": false, "zero": false}, "axis": null}, "y": {"field": "y", "type": "quantitative", "scale": {"domain": [0.15,0.2], "nice": false, "zero": false}, "axis": null}, "text": {"field": "s"}}},
  {"transform": [{"filter": "datum.k=='m'"}], "mark": {"type": "text", "align": "left", "baseline": "alphabetic", "fontSize": 11, "color": "#333"},
   "encoding": {"x": {"field": "x", "type": "quantitative", "scale": {"domain": [0.1,0.2], "nice": false, "zero": false}, "axis": null}, "y": {"field": "y", "type": "quantitative", "scale": {"domain": [0.15,0.2], "nice": false, "zero": false}, "axis": null}, "text": {"field": "t"}}},
  {"transform": [{"filter": "datum.k=='t'"}], "mark": {"type": "point", "shape": "M-1,0L1,0M0,-1L0,1", "size": 25, "filled": false, "stroke": "#111", "strokeWidth": 1, "opacity": 1},
   "encoding": {"x": {"field": "x", "type": "quantitative", "scale": {"domain": [0.1,0.2], "nice": false, "zero": false}, "axis": {"orient": "top", "values": [0.1,0.11,0.12,0.13,0.14,0.15,0.16,0.17,0.18,0.19,0.2], "labels": false, "title": null}},
    "y": {"field": "y", "type": "quantitative", "scale": {"domain": [0.15,0.2], "nice": false, "zero": false}, "axis": {"orient": "right", "values": [0.15,0.155,0.16,0.165,0.17,0.175,0.18,0.185,0.19,0.195,0.2], "labels": false, "title": null}}}}
 ]}
]
}
